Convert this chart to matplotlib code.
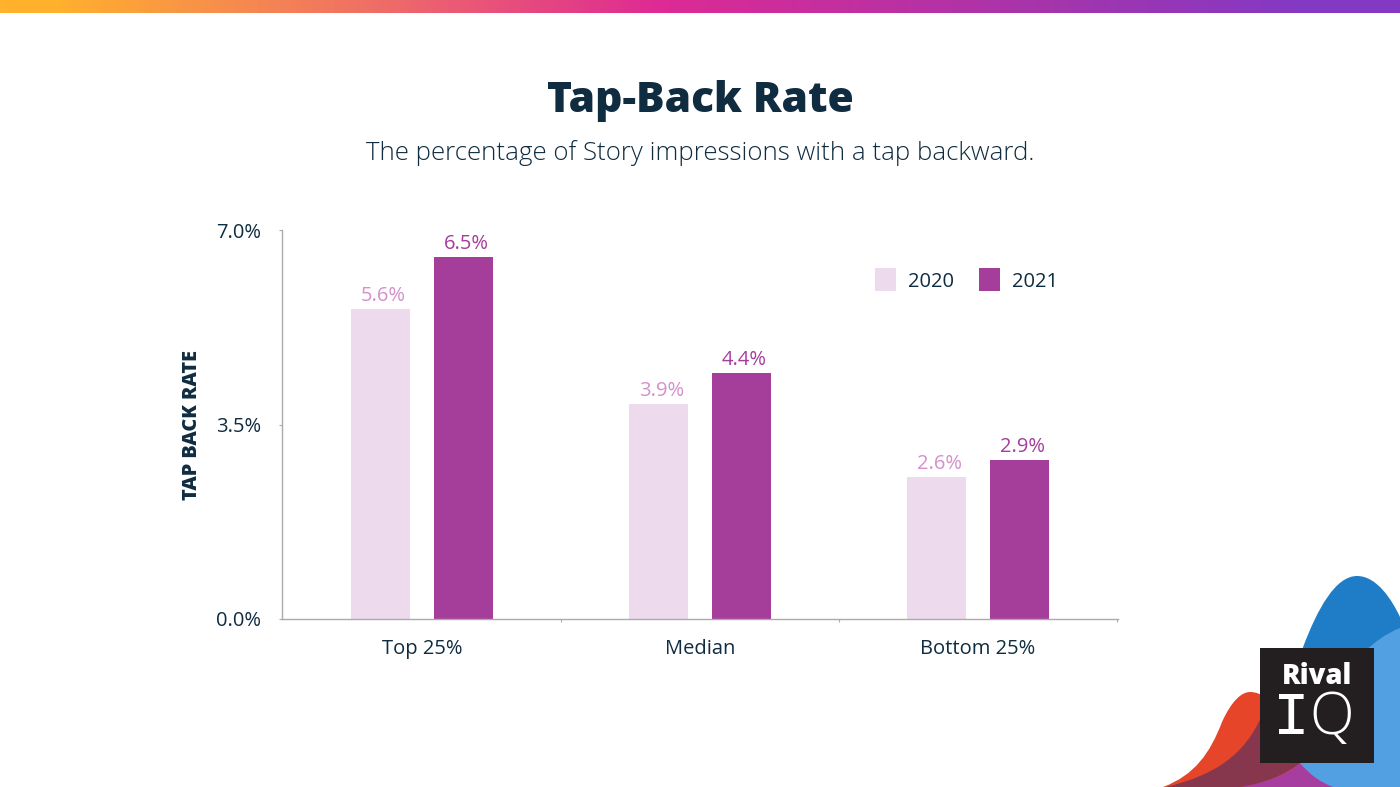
"""
Tap-Back Rate bar chart (Rival IQ style slide)
"""

import matplotlib
matplotlib.use('Agg')
import matplotlib.pyplot as plt
import numpy as np
from matplotlib.colors import LinearSegmentedColormap
from matplotlib.patches import PathPatch, Rectangle
from matplotlib.path import Path

categories = ['Top 25%', 'Median', 'Bottom 25%']
values_2020 = [5.58, 3.87, 2.56]
values_2021 = [6.52, 4.43, 2.87]
labels_2020 = ['5.6%', '3.9%', '2.6%']
labels_2021 = ['6.5%', '4.4%', '2.9%']
y_ticks = [0.0, 3.5, 7.0]

W, H = 1400, 787
DARK = '#0F2C40'
LIGHT_BAR = '#EDDAEC'
DARK_BAR = '#A53D9B'
LIGHT_LABEL = '#D590CC'
AXIS_GRAY = '#ABABAB'

plt.rcParams['font.family'] = ['Open Sans', 'DejaVu Sans']

fig = plt.figure(figsize=(W / 100, H / 100), dpi=100, facecolor='white')

# background layer in pixel coordinates
bg = fig.add_axes([0, 0, 1, 1])
bg.axis('off')

# top gradient strip
cmap = LinearSegmentedColormap.from_list(
    'strip', [(0, '#FFB22B'), (0.04, '#FFB02E'), (0.28, '#EE6A6A'), (0.47, '#DE2A94'),
              (0.75, '#A535AC'), (0.93, '#8439C4'), (1, '#8439C4')])
bg.imshow(np.linspace(0, 1, 700).reshape(1, -1), cmap=cmap, aspect='auto',
          extent=(0, W, 13, 0), zorder=1)
bg.set_xlim(0, W)
bg.set_ylim(H, 0)


def blob(verts, color, z):
    codes = [Path.MOVETO] + [Path.CURVE4] * (len(verts) - 2) + [Path.CLOSEPOLY]
    bg.add_patch(PathPatch(Path(verts, codes), facecolor=color, edgecolor='none', zorder=z))


# corner blobs
dark_blue = [(1262, 787), (1285, 700), (1315, 576), (1357, 576),
             (1377, 576), (1392, 600), (1400, 617),
             (1400, 680), (1400, 740), (1400, 787),
             (1350, 787), (1300, 787), (1262, 787), (1262, 787)]
red = [(1163, 787), (1195, 775), (1210, 753), (1222, 722),
       (1232, 700), (1242, 692), (1250, 692),
       (1275, 692), (1285, 730), (1300, 763),
       (1310, 775), (1320, 782), (1333, 787),
       (1280, 787), (1220, 787), (1163, 787), (1163, 787)]
purple = [(1240, 787), (1275, 780), (1290, 772), (1300, 763),
          (1312, 772), (1322, 780), (1335, 787),
          (1300, 787), (1270, 787), (1240, 787), (1240, 787)]
maroon = [(1166, 787), (1215, 775), (1245, 755), (1262, 715),
          (1275, 730), (1285, 750), (1300, 763),
          (1285, 775), (1265, 783), (1240, 787),
          (1220, 787), (1190, 787), (1166, 787), (1166, 787)]
light_blue = [(1333, 787), (1320, 782), (1310, 775), (1300, 763),
              (1320, 720), (1345, 650), (1400, 628),
              (1400, 680), (1400, 740), (1400, 787),
              (1380, 787), (1350, 787), (1333, 787), (1333, 787)]
blob(dark_blue, '#1F7DC8', 2)
blob(red, '#E6452A', 3)
blob(purple, '#A83DA0', 4)
blob(maroon, '#86374E', 5)
blob(light_blue, '#529FE2', 6)

# logo box
bg.add_patch(Rectangle((1260, 648), 114, 115, facecolor='#231F20', edgecolor='none', zorder=7))
bg.text(1317, 677, 'Rival', color='white', fontsize=19.8, fontweight=800,
        ha='center', va='center', zorder=8)
bg.text(1291, 719, 'I', color='white', fontsize=44, family='Liberation Mono',
        ha='center', va='center', zorder=8)
bg.text(1332, 719, 'Q', color='white', fontsize=42, fontweight='light',
        ha='center', va='center', zorder=8)

# titles
bg.text(700, 101, 'Tap-Back Rate', color=DARK, fontsize=30.6, fontweight=800,
        ha='center', va='center')
bg.text(700, 153, 'The percentage of Story impressions with a tap backward.', color=DARK,
        fontsize=18.6, fontweight='light', ha='center', va='center')

# chart
ax = fig.add_axes([282 / W, 1 - 619 / H, 836 / W, 389 / H])
ax.patch.set_alpha(0)
x = np.arange(len(categories))
bar_w = 0.212
offset = 0.149
bars_2020 = ax.bar(x - offset, values_2020, bar_w, color=LIGHT_BAR, label='2020')
bars_2021 = ax.bar(x + offset, values_2021, bar_w, color=DARK_BAR, label='2021')

# value labels sit a little right of the bar centres
for xi, v20, v21, l20, l21 in zip(x, values_2020, values_2021, labels_2020, labels_2021):
    ax.annotate(l20, (xi - offset, v20), xytext=(2, 2), textcoords='offset points',
                ha='center', va='bottom', color=LIGHT_LABEL, fontsize=14.5)
    ax.annotate(l21, (xi + offset, v21), xytext=(2, 2), textcoords='offset points',
                ha='center', va='bottom', color=DARK_BAR, fontsize=14.5)

ax.set_xlim(-0.5036, 2.5036)
ax.set_ylim(0, 7)
ax.set_yticks(y_ticks)
ax.set_yticklabels([f'{v:.1f}%' for v in y_ticks])
ax.set_xticks(x)
ax.set_xticklabels(categories)
ax.set_xticks([0.5, 1.5, 2.5], minor=True)
ax.tick_params(axis='x', which='major', length=0, pad=14.7, labelsize=14.5, labelcolor=DARK)
ax.tick_params(axis='x', which='minor', length=2, width=0.8, color=AXIS_GRAY)
ax.tick_params(axis='y', length=2, width=0.8, color=AXIS_GRAY, pad=13.2, labelsize=14.5, labelcolor=DARK)
for side in ['top', 'right']:
    ax.spines[side].set_visible(False)
for side in ['left', 'bottom']:
    ax.spines[side].set_color(AXIS_GRAY)
    ax.spines[side].set_linewidth(1)

ax.set_ylabel('TAP BACK RATE', color=DARK, fontsize=14.3, fontweight=800)
ax.yaxis.set_label_coords((202 - 282) / 836, 0.5)

ax.legend(loc='center left', bbox_to_anchor=((857 - 282) / 836, (619 - 280) / 389), ncol=2,
          frameon=False, fontsize=14.5, handlelength=1.03, handleheight=1.35,
          handletextpad=0.6, columnspacing=1.25, labelcolor=DARK)

plt.savefig('out.png', dpi=100)
plt.close()
